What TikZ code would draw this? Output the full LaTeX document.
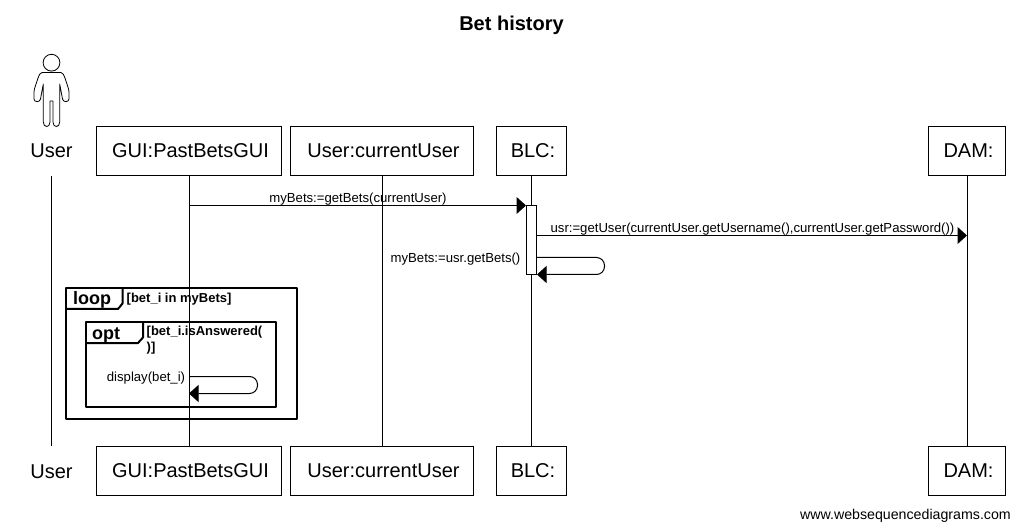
\documentclass[tikz,border=0pt]{standalone}
\usepackage{fontspec}
\setmainfont{Liberation Sans}
\usetikzlibrary{arrows.meta}
\newcommand{\pxfont}[1]{\fontsize{#1}{#1}\selectfont}
\newcommand{\nudge}{\hspace*{3pt}}
\tikzset{
  x=1pt,y=-1pt,
  part/.style={draw=black,line width=1pt,fill=white,inner sep=0pt,minimum height=49pt,font=\pxfont{20},text=black},
  plain/.style={inner sep=0pt,font=\pxfont{20}},
  life/.style={line width=1pt,black},
  msg/.style={inner sep=0pt,font=\pxfont{13.15},anchor=base},
  arr/.style={line width=1pt,-{Triangle[length=9.5pt,width=17pt]}},
  frame/.style={draw=black,line width=2pt,line join=round},
  guard/.style={inner sep=0pt,font=\pxfont{13}\bfseries,anchor=base west},
  tag/.style={inner sep=0pt,font=\pxfont{18}\bfseries,anchor=base}
}
\begin{document}
\begin{tikzpicture}
\useasboundingbox (0,0) rectangle (1020,529);
\node[inner sep=0pt,font=\pxfont{20}\bfseries,anchor=base] (title) at (511.5,30.5) {Bet history};
% participants
\node[part,minimum width=185pt] (gui) at (189,151) {\nudge GUI:PastBetsGUI};
\node[part,minimum width=183pt] (cur) at (382,151) {\nudge User:currentUser};
\node[part,minimum width=70pt] (blc) at (531.5,151) {\nudge BLC:};
\node[part,minimum width=77pt] (dam) at (967,151) {\nudge DAM:};
\node[part,minimum width=185pt] (guib) at (189,471) {\nudge GUI:PastBetsGUI};
\node[part,minimum width=183pt] (curb) at (382,471) {\nudge User:currentUser};
\node[part,minimum width=70pt] (blcb) at (531.5,471) {\nudge BLC:};
\node[part,minimum width=77pt] (damb) at (967,471) {\nudge DAM:};
\node[plain] (usr) at (51.5,151) {User};
\node[plain] (usrb) at (51.5,472) {User};
\coordinate (utop) at (51.5,176);
\coordinate (ubot) at (51.5,446);
% frames
\draw[frame] (66,288) rectangle (297,419);
\draw[frame] (66,309) -- (118,309) -- (122.5,303.5) -- (122.5,288);
\draw[frame] (86,322) rectangle (276,406.5);
\draw[frame] (86,343) -- (138,343) -- (143,337.5) -- (143,322);
\node[tag] (loopt) at (92,305) {loop};
\node[tag] (optt) at (106,339) {opt};
\node[guard] (g1) at (126.5,302) {[bet\_i in myBets]};
\node[guard] (g2) at (146.5,335.5) {[bet\_i.isAnswered(};
\node[guard] (g3) at (146.5,351.5) {)]};
% lifelines
\draw[life] (utop) -- (ubot);
\draw[life] (gui) -- (guib);
\draw[life] (cur) -- (curb);
\draw[life] (blc) -- (blcb);
\draw[life] (dam) -- (damb);
% activation
\node[draw=black,line width=1pt,fill=white,minimum width=10pt,minimum height=69pt,inner sep=0pt] (act) at (531.5,240) {};
% messages
\draw[arr] (gui.south |- 0,205.5) -- (act.west |- 0,205.5);
\draw[arr] (act.east |- 0,235.5) -- (dam.south |- 0,235.5);
\draw[arr,rounded corners=8pt] (act.east |- 0,257.5) -- (604.5,257.5) -- (604.5,274.5) -- (act.east |- 0,274.5);
\draw[arr,rounded corners=8pt] (gui.south |- 0,376.5) -- (257.5,376.5) -- (257.5,393.5) -- (gui.south |- 0,393.5);
\node[msg] (l1) at (358,203) {myBets:=getBets(currentUser)};
\node[msg] (l2) at (752.5,233) {usr:=getUser(currentUser.getUsername(),currentUser.getPassword())};
\node[msg] (l3) at (455.5,263) {myBets:=usr.getBets()};
\node[msg] (l4) at (146,381) {display(bet\_i)};
% actor
\draw[line width=0.8pt] (51.5,62.7) circle (8.4);
\draw[line width=0.8pt,line join=round]
 (42,72.5) .. controls (40,73) and (39,75) .. (38,78)
 .. controls (36.5,83) and (34,89) .. (34,92)
 -- (34,99) .. controls (34,102.5) and (40,102.5) .. (40.5,99)
 -- (43.3,84) -- (43.3,122)
 .. controls (43.3,128) and (50,128) .. (50,122)
 -- (50,101) -- (53,101) -- (53,122)
 .. controls (53,128) and (59.7,128) .. (59.7,122)
 -- (59.7,84) -- (62.5,99)
 .. controls (63,102.5) and (69,102.5) .. (69,99)
 -- (69,92) .. controls (69,89) and (66.5,83) .. (65,78)
 .. controls (64,75) and (63,73) .. (61,72.5)
 -- cycle;
\node[inner sep=0pt,font=\pxfont{14.2},anchor=base east] (foot) at (1011,519) {www.websequencediagrams.com};
\end{tikzpicture}
\end{document}
